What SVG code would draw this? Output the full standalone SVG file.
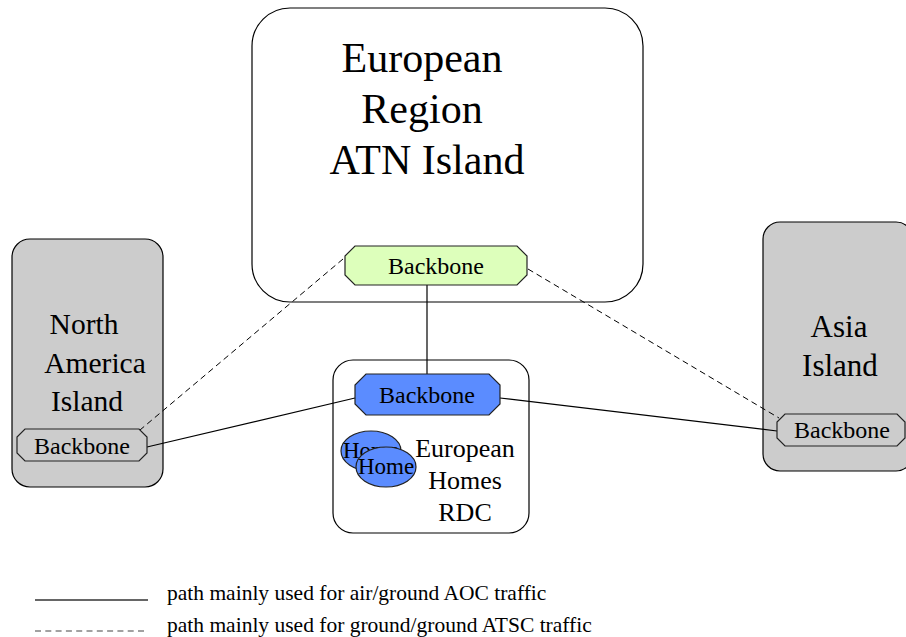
<svg xmlns="http://www.w3.org/2000/svg" width="906" height="637" viewBox="0 0 906 637">
<style>
text{font-family:"Liberation Serif","Times New Roman",serif;fill:#000;text-anchor:middle}
.box{stroke:#000;stroke-width:1.2}
.gray{fill:#cccccc}
.oct{stroke:#222;stroke-width:1.2}
.solid{stroke:#000;stroke-width:1.2;fill:none}
.dash{stroke:#000;stroke-width:1;fill:none;stroke-dasharray:6 4}
.big{font-size:42px}
.mid{font-size:31px}
.na{font-size:29.5px}
.bb{font-size:24px}
.hm{font-size:23px}
.leg{font-size:21.5px;text-anchor:start}
</style>
<rect width="906" height="637" fill="#fff"/>
<g id="europe">
<rect class="box" x="252" y="8" width="391" height="294" rx="38" ry="38" fill="#fff"/>
<text class="big" x="422" y="72">European</text>
<text class="big" x="422" y="123">Region</text>
<text class="big" x="427" y="174">ATN Island</text>
</g>
<g id="north-america">
<rect class="box gray" x="12" y="239" width="151" height="248" rx="18" ry="18"/>
<text class="na" x="84" y="334">North</text>
<text class="na" x="95" y="373">America</text>
<text class="na" x="87" y="411">Island</text>
</g>
<g id="asia">
<rect class="box gray" x="763" y="222" width="150" height="249" rx="17" ry="17"/>
<text class="mid" x="839" y="337">Asia</text>
<text class="mid" x="840" y="376">Island</text>
</g>
<g id="rdc">
<rect class="box" x="333" y="360" width="196" height="173" rx="20" ry="20" fill="#fff"/>
<text style="font-size:26px" x="465" y="457">European</text>
<text style="font-size:26px" x="465" y="489">Homes</text>
<text style="font-size:26px" x="465" y="521">RDC</text>
</g>
<g id="connectors">
<line class="solid" x1="427" y1="285" x2="427" y2="374"/>
<line class="solid" x1="355" y1="398" x2="147" y2="447"/>
<line class="solid" x1="500" y1="398" x2="777" y2="431"/>
<line class="dash" x1="343" y1="259" x2="140" y2="430"/>
<line class="dash" x1="528" y1="269" x2="779" y2="418"/>
</g>
<g id="backbone-europe">
<polygon class="oct" fill="#ddffbb" points="355,246 517,246 527,256 527,275 517,285 355,285 345,275 345,256"/>
<text class="bb" x="436" y="274">Backbone</text>
</g>
<g id="backbone-rdc">
<polygon class="oct" fill="#5b8cff" points="366,374 489,374 500,385 500,404 489,415 366,415 355,404 355,385"/>
<text class="bb" x="427" y="403">Backbone</text>
</g>
<g id="backbone-na">
<polygon class="oct" fill="#cccccc" points="25,429 139,429 147,437 147,453 139,461 25,461 17,453 17,437"/>
<text class="bb" x="82" y="454">Backbone</text>
</g>
<g id="backbone-asia">
<polygon class="oct" fill="#cccccc" points="785,414 897,414 905,422 905,438 897,446 785,446 777,438 777,422"/>
<text class="bb" x="842" y="438">Backbone</text>
</g>
<g id="home1">
<ellipse class="oct" fill="#5b8cff" cx="371" cy="451" rx="30" ry="20"/>
<text class="hm" x="371" y="458">Home</text>
</g>
<g id="home2">
<ellipse class="oct" fill="#5b8cff" cx="386" cy="467" rx="30" ry="20"/>
<text class="hm" x="386" y="474">Home</text>
</g>
<g id="legend">
<line class="solid" x1="35" y1="600" x2="148" y2="600" style="stroke:#333;stroke-width:1.5"/>
<line class="dash" x1="35" y1="631" x2="148" y2="631" style="stroke:#444;stroke-width:1.2;stroke-dasharray:6 4.3"/>
<text class="leg" x="167" y="600">path mainly used for air/ground AOC traffic</text>
<text class="leg" x="167" y="632">path mainly used for ground/ground ATSC traffic</text>
</g>
</svg>
